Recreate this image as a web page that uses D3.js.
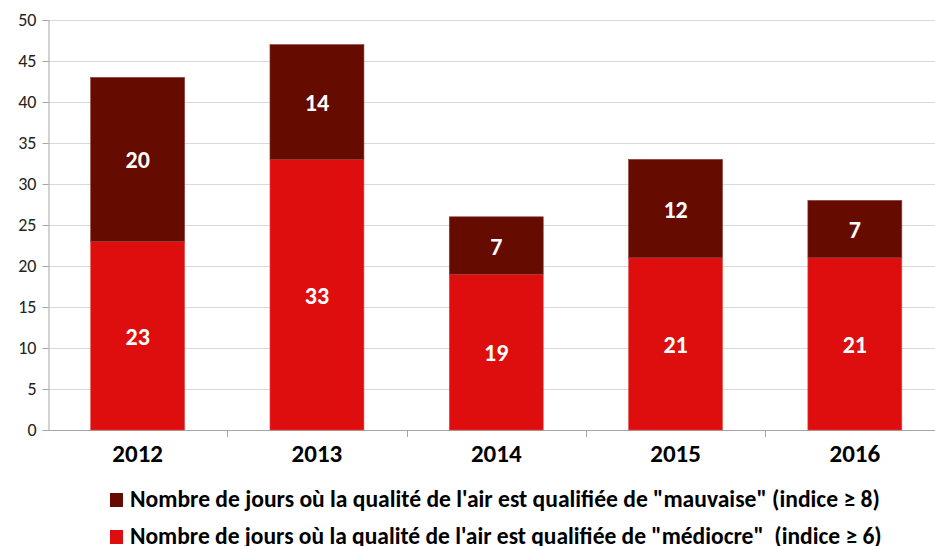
<!DOCTYPE html>
<html><head><meta charset="utf-8">
<script src="https://cdn.jsdelivr.net/npm/d3@7"></script>
<style>body{margin:0;background:#fff;} svg{display:block;font-family:Carlito,Lato,sans-serif;}</style>
</head><body>
<svg id="c" width="935" height="546"></svg>
<script>
const years = ["2012","2013","2014","2015","2016"];
const mediocre = [23,33,19,21,21];
const mauvaise = [20,14,7,12,7];
const yTicks = [0,5,10,15,20,25,30,35,40,45,50];
const seriesNames = [
  "Nombre de jours où la qualité de l'air est qualifiée de \"mauvaise\" (indice ≥ 8)",
  "Nombre de jours où la qualité de l'air est qualifiée de \"médiocre\"  (indice ≥ 6)"
];
const colors = {mauvaise:"#650b00", mediocre:"#de0e0e"};

const svg = d3.select("#c");
const x0 = 48, bandW = 179.3;
const x = d3.scaleBand().domain(years).range([x0, x0 + bandW*years.length]).paddingInner(0).paddingOuter(0);
const y = d3.scaleLinear().domain([0,50]).range([430,20]);

// gridlines
svg.append("g").selectAll("line").data(yTicks.filter(d=>d>0)).join("line")
  .attr("x1", x0).attr("x2", 935).attr("y1", d=>y(d)+0.5).attr("y2", d=>y(d)+0.5)
  .attr("stroke","#d9d9d9").attr("stroke-width",1);

// y axis
const yAxis = svg.append("g").attr("transform",`translate(${x0+0.5},0)`)
  .call(d3.axisLeft(y).tickValues(yTicks).tickSize(6).tickPadding(6));
yAxis.select(".domain").attr("stroke","#a6a6a6");
yAxis.selectAll(".tick line").attr("stroke","#a6a6a6");
yAxis.selectAll(".tick text").attr("font-size",18).attr("fill","#222").attr("font-family","Carlito,Lato,sans-serif");

// x axis
const xAxis = svg.append("g").attr("transform",`translate(0,${y(0)+0.5})`)
  .call(d3.axisBottom(x).tickSize(0).tickPadding(14));
xAxis.select(".domain").attr("stroke","#a6a6a6").attr("d",`M${x0},0H935`);
xAxis.selectAll(".tick text").attr("font-size",25).attr("font-weight","bold").attr("fill","#000").attr("font-family","Carlito,Lato,sans-serif");
// category separators
svg.append("g").selectAll("line").data(years.slice(1)).join("line")
  .attr("x1",d=>Math.round(x(d))+0.5).attr("x2",d=>Math.round(x(d))+0.5)
  .attr("y1",y(0)).attr("y2",y(0)+7).attr("stroke","#a6a6a6");

const barW = bandW*0.524, off = (bandW-barW)/2;
const data = years.map((yr,i)=>({yr, a:mediocre[i], b:mauvaise[i]}));

// bars
const g = svg.append("g");
g.selectAll("rect.med").data(data).join("rect")
  .attr("x",d=>x(d.yr)+off).attr("width",barW)
  .attr("y",d=>y(d.a)).attr("height",d=>y(0)-y(d.a)).attr("fill",colors.mediocre)
  .attr("stroke","#e34a4a").attr("stroke-width",0.6);
g.selectAll("rect.mau").data(data).join("rect")
  .attr("x",d=>x(d.yr)+off).attr("width",barW)
  .attr("y",d=>y(d.a+d.b)).attr("height",d=>y(d.a)-y(d.a+d.b)).attr("fill",colors.mauvaise)
  .attr("stroke","#8a3c35").attr("stroke-width",0.6);

// labels
const lab = svg.append("g").attr("font-size",24).attr("font-weight","bold").attr("fill","#fff").attr("text-anchor","middle");
lab.selectAll("text.a").data(data).join("text")
  .attr("x",d=>x(d.yr)+bandW/2).attr("y",d=>(y(0)+y(d.a))/2+9).text(d=>d.a);
lab.selectAll("text.b").data(data).join("text")
  .attr("x",d=>x(d.yr)+bandW/2).attr("y",d=>(y(d.a)+y(d.a+d.b))/2+9).text(d=>d.b);

// legend
const leg = svg.append("g");
const legItems = [{n:seriesNames[0],c:colors.mauvaise,yy:493},{n:seriesNames[1],c:colors.mediocre,yy:530}];
legItems.forEach(it=>{
  leg.append("rect").attr("x",110).attr("y",it.yy).attr("width",13).attr("height",14).attr("fill",it.c);
  const t = leg.append("text").attr("x",130).attr("y",it.yy+14).attr("font-size",20).attr("font-weight","bold").attr("fill","#000").style("white-space","pre").text(it.n);
  const w = t.node().getComputedTextLength();
  const target = it === legItems[0] ? 750 : 752;
  t.attr("font-size", Math.min(24, 20*target/w));
});
</script>
</body></html>
